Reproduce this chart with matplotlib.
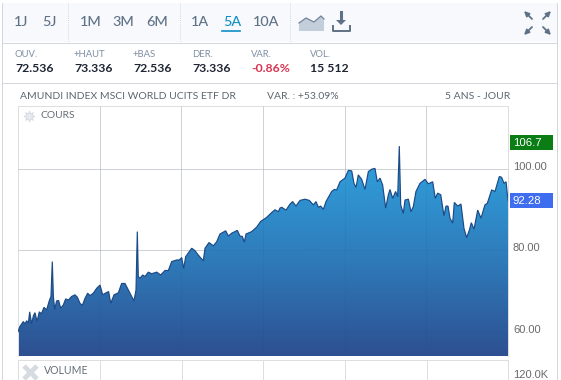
#!/usr/bin/env python3
"""Fund price panel, 5 years daily: toolbar, quote strip, gradient area chart."""
import numpy as np
import matplotlib
matplotlib.use("Agg")
import matplotlib.pyplot as plt
from matplotlib.colors import LinearSegmentedColormap
from matplotlib.patches import Rectangle, Polygon

# months since start of the window
months = [0.0, 0.24, 0.65, 0.86, 1.06, 1.27, 1.43, 1.67, 1.88, 2.08, 2.33, 2.61, 2.86, 3.18, 3.51, 3.84,
          4.04, 4.20, 4.33, 4.49, 4.73, 4.98, 5.22, 5.55, 5.84, 6.16, 6.57, 6.98, 7.27, 7.59, 7.88, 8.20,
          8.53, 8.82, 9.22, 9.63, 10.04, 10.37, 10.78, 11.10, 11.35, 11.76, 12.29, 12.69, 13.10, 13.51,
          13.92, 14.20, 14.45, 14.61, 14.73, 14.94, 15.27, 15.55, 15.96, 16.37, 16.98, 17.47, 18.00, 18.41,
          18.82, 19.43, 19.76, 20.04, 20.29, 20.53, 21.27, 21.67, 21.88, 22.29, 22.69, 22.90, 23.39, 23.92,
          24.33, 24.73, 25.43, 25.76, 26.16, 26.86, 27.18, 27.47, 27.71, 27.92, 28.61, 29.22, 29.71, 30.45,
          31.06, 31.47, 31.88, 32.08, 32.29, 32.82, 33.31, 33.63, 34.04, 34.53, 35.14, 35.67, 36.16, 36.49,
          36.78, 37.06, 37.39, 37.71, 38.04, 38.41, 38.73, 39.02, 39.43, 40.04, 40.45, 40.86, 41.14, 41.39,
          41.67, 42.08, 42.49, 42.90, 43.31, 43.71, 44.00, 44.33, 44.65, 45.02, 45.35, 45.55, 45.88, 46.24,
          46.49, 46.69, 46.86, 47.18, 47.39, 47.80, 48.12, 48.41, 48.73, 49.22, 49.84, 50.24, 50.78, 51.10,
          51.39, 51.76, 52.16, 52.41, 52.65, 52.90, 53.22, 53.43, 53.84, 54.24, 54.61, 54.94, 55.27, 55.51,
          55.84, 56.29, 56.69, 57.18, 57.47, 58.00, 58.41, 58.94, 59.22, 59.51, 59.76, 60.0]
prices = [59.9, 61.2, 62.4, 61.8, 62.6, 62.0, 64.8, 61.8, 63.8, 64.6, 62.4, 64.8, 64.3, 65.9, 65.3, 67.6,
          68.6, 77.2, 68.6, 65.4, 67.5, 67.6, 65.7, 66.5, 68.0, 67.7, 68.6, 69.0, 68.4, 66.9, 66.4, 68.1,
          69.4, 68.8, 69.4, 70.6, 71.4, 69.0, 69.5, 69.8, 66.9, 69.0, 69.5, 71.8, 71.8, 70.2,
          68.6, 67.5, 70.2, 84.6, 73.5, 73.1, 73.9, 73.5, 74.6, 74.2, 74.6, 73.9, 75.0, 75.0,
          77.2, 77.6, 77.6, 78.2, 75.5, 78.4, 80.5, 79.9, 79.3, 78.3, 77.4, 80.5, 81.9, 81.1,
          82.1, 84.0, 84.8, 83.5, 84.2, 84.9, 83.5, 83.4, 82.0, 84.0, 84.6, 85.7, 87.1, 88.1,
          89.3, 90.0, 89.5, 90.4, 90.6, 89.9, 91.4, 92.0, 90.9, 92.3, 92.6, 92.3, 91.2, 92.0,
          90.6, 90.9, 90.1, 92.0, 93.2, 94.5, 95.0, 94.9, 96.9, 97.8, 99.7, 99.6, 96.5, 95.5,
          98.6, 97.5, 95.0, 99.4, 100.0, 100.2, 96.9, 97.8, 96.1, 90.4, 93.7, 95.0, 92.8, 94.5,
          93.2, 105.7, 91.2, 89.1, 92.4, 92.6, 89.5, 90.8, 94.5, 96.5, 97.5, 96.4, 96.9, 92.8,
          94.1, 93.7, 88.5, 90.9, 90.9, 87.9, 86.7, 91.8, 90.9, 91.4, 85.4, 83.1, 85.0, 86.8,
          85.2, 89.9, 87.9, 91.2, 91.6, 94.9, 94.5, 98.2, 98.0, 96.5, 96.9, 92.28]
y_ticks = [60, 80, 100]
x_grid = [10, 20, 30, 40, 50]
periods = [("1J", 21), ("5J", 49), ("1M", 91), ("3M", 123), ("6M", 157), ("1A", 200), ("5A", 232), ("10A", 266)]
quotes = [("OUV.", "72.536", 15), ("+HAUT", "73.336", 74), ("+BAS", "72.536", 133),
          ("DER.", "73.336", 192), ("VAR.", "-0.86%", 251), ("VOL.", "15 512", 310)]

plt.rcParams["font.family"] = ["Lato", "DejaVu Sans"]
W, H = 561, 380
GRID, EDGE, SLATE = "#dedede", "#d3d7dc", "#5f7186"
HAIR = 0.72  # one pixel at dpi 100
fig = plt.figure(figsize=(W / 100, H / 100), dpi=100)

# page layer in pixels, y downwards
pg = fig.add_axes([0, 0, 1, 1])
pg.set_xlim(0, W); pg.set_ylim(H, 0); pg.axis("off")
pg.add_patch(Rectangle((2.5, 2.5), 555, 400, fc="white", ec=EDGE, lw=HAIR))
pg.add_patch(Rectangle((3, 3), 554, 39, fc="#f7f9fc", ec="none"))
pg.plot([3, 557], [42.5, 42.5], color=EDGE, lw=HAIR)
pg.plot([3, 557], [82.5, 82.5], color=EDGE, lw=HAIR)
for x in (68.5, 180.5, 290.5):
    pg.plot([x, x], [3, 42], color="#c5ccd4", lw=0.6, ls=(0, (1, 1.5)))
for lab, x in periods:
    pg.text(x, 21.5, lab, ha="center", va="center", fontsize=10.4, weight="medium",
            color="#0f8fc4" if lab == "5A" else SLATE)
pg.plot([222, 240], [30.5, 30.5], color="#0f8fc4", lw=1.2)
for lab, val, x in quotes:
    pg.text(x, 54.5, lab, ha="left", va="center", fontsize=6.8, color="#7d8fa3")
    pg.text(x, 68, val, ha="left", va="center", fontsize=8.8, weight="bold",
            color="#d8344f" if lab == "VAR." else "#1e2633")
pg.text(20, 96.5, "AMUNDI INDEX MSCI WORLD UCITS ETF DR", ha="left", va="center", fontsize=7.5, color="#5d6670")
pg.text(267, 96.5, "VAR. : +53.09%", ha="left", va="center", fontsize=7.5, color="#5d6670")
pg.text(510, 96.5, "5 ANS - JOUR", ha="right", va="center", fontsize=7.5, color="#5d6670")

# toolbar icons
pg.add_patch(Polygon([(299, 31), (299, 23), (306, 18), (314, 22), (321, 16), (324, 19), (324, 31)], fc="#c3cedb", ec="none"))
pg.plot([299, 306, 314, 321, 324], [23, 18, 22, 16, 19], color="#71839a", lw=0.9)
pg.plot([341, 341], [12, 21], color=SLATE, lw=2.2)
pg.add_patch(Polygon([(336, 20), (346, 20), (341, 25)], fc=SLATE, ec="none"))
pg.plot([333, 333, 350.5, 350.5], [26, 30.5, 30.5, 26], color=SLATE, lw=1.4)
for x0, y0, dx, dy in [(532, 19, -8, -8), (543, 19, 8, -8), (532, 27, -8, 8), (543, 27, 8, 8)]:
    pg.annotate("", xy=(x0 + dx, y0 + dy), xytext=(x0, y0),
                arrowprops=dict(arrowstyle="-|>", color=SLATE, lw=1.3, mutation_scale=7, shrinkA=0, shrinkB=0))

# price panel: 106 .. 356 px, scale fixed from the gridlines
ax = fig.add_axes([18 / W, 1 - 356 / H, 490 / W, 250 / H])
ax.set_xlim(0, 60); ax.set_ylim(53.9, 115.6)
ax.patch.set_alpha(0)
for name, s in ax.spines.items():
    s.set_color(GRID); s.set_linewidth(HAIR)
ax.spines["bottom"].set_visible(False)
ax.set_xticks([]); ax.set_yticks([])
for v in y_ticks:
    ax.axhline(v, color=GRID, lw=HAIR, zorder=1)
    ax.axhline(v, color="#1c3f70", alpha=0.08, lw=HAIR, zorder=4)
for v in x_grid:
    ax.axvline(v, color=GRID, lw=HAIR, zorder=1)
    ax.axvline(v, color="#1c3f70", alpha=0.08, lw=HAIR, zorder=4)

cmap = LinearSegmentedColormap.from_list("area", ["#2d5091", "#2f7ab9", "#2f9dd9"])
im = ax.imshow(np.linspace(1, 0, 256).reshape(-1, 1), cmap=cmap, aspect="auto", zorder=2,
               extent=[0, 60, 53.9, 100.5], vmin=0, vmax=1)
ax.set_xlim(0, 60); ax.set_ylim(53.9, 115.6)
area = ax.fill_between(months, prices, 53.9, color="none")
im.set_clip_path(area.get_paths()[0], transform=ax.transData)
ax.plot(months, prices, color="#1b4a87", lw=0.85, solid_joinstyle="miter", zorder=3)

# right hand scale
for v in y_ticks:
    pg.text(513, 166.7 + (100 - v) * 4.08, f"{v:.2f}", ha="left", va="center",
            fontsize=8, color="#6a6a6a", family=["Liberation Sans"])
pg.add_patch(Rectangle((510, 135), 43, 15, fc="#0a7d14", ec="none"))
pg.text(513, 142.5, "106.7", ha="left", va="center", fontsize=8.2, color="white", family=["Liberation Sans"])
pg.add_patch(Rectangle((510, 193), 43, 15, fc="#3f6df0", ec="none"))
pg.text(513, 200.5, "92.28", ha="left", va="center", fontsize=8.2, color="white", family=["Liberation Sans"])

# panel labels
pg.text(40.5, 115.5, "COURS", ha="left", va="center", fontsize=7.4, color="#666e78", zorder=5)
pg.plot([29], [115.5], marker=(8, 1, 0), ms=8, mfc="#e6eaee", mec="#cfd6dc", mew=0.5, zorder=5)

# volume pane stub
pg.plot([18.5, 508], [359.5, 359.5], color=GRID, lw=HAIR)
for x in (18.5, 100.5, 182.5, 263.5, 345.5, 427.5, 508.5):
    pg.plot([x, x], [359.5, 380], color=GRID, lw=HAIR)
pg.plot([24, 37], [366, 379], color="#d5dbe1", lw=3.4, solid_capstyle="butt")
pg.plot([24, 37], [379, 366], color="#d5dbe1", lw=3.4, solid_capstyle="butt")
pg.text(44, 370.5, "VOLUME", ha="left", va="center", fontsize=7.6, color="#666e78")
pg.text(513, 375, "120.0K", ha="left", va="center", fontsize=8, color="#6a6a6a", family=["Liberation Sans"])

fig.savefig("out.png", dpi=100)
